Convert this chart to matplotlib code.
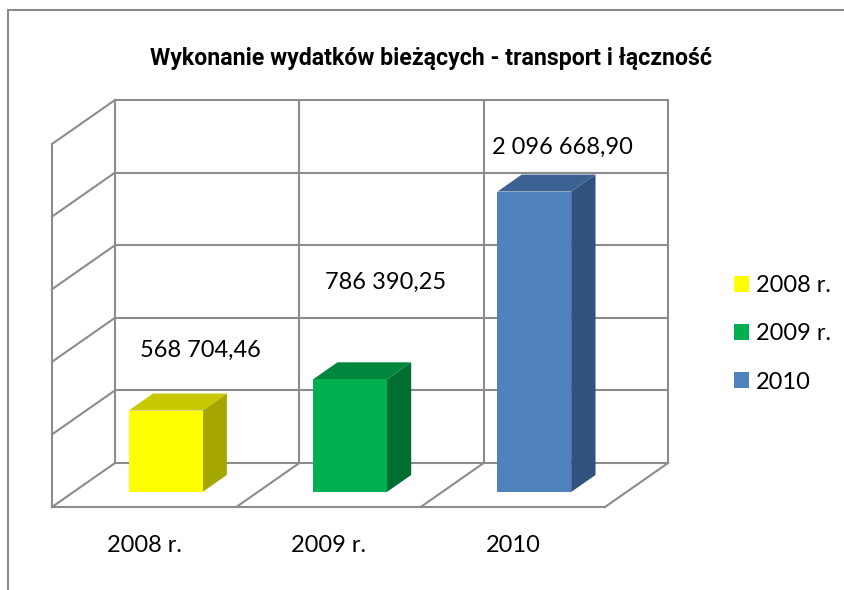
import matplotlib.pyplot as plt
from matplotlib.patches import Polygon, Patch
from matplotlib.lines import Line2D

title = "Wykonanie wydatków bieżących - transport i łączność"
categories = ["2008 r.", "2009 r.", "2010"]
values = [568704.46, 786390.25, 2096668.90]
front_colors = ["#FFFF00", "#00B050", "#4F81BD"]
top_colors = ["#C8C800", "#00873D", "#3B6293"]
side_colors = ["#A6A600", "#006E31", "#30527F"]

# where the value labels sit (category units, value units)
label_pos = [(0.803, 1.081e6), (1.807, 1.550e6), (2.767, 2.479e6)]

grid_color = "#8C8C8C"
font = ["Lato", "DejaVu Sans"]

fig = plt.figure(figsize=(8.44, 5.90), dpi=100)
ax = fig.add_axes([52 / 844, 1 - 507 / 590, 553 / 844, 363 / 590])
ax.set_xlim(0, 3)
ax.set_ylim(0, 2.5e6)
ax.axis('off')

# depth vector (floor front -> back wall)
DX = 63 / 184.33
DV = 44 / 363 * 2.5e6
BAR_SCALE = 143.3 / 145.2  # bars come out a touch shorter than the wall grid


def proj(x, v, d):
    return x + d * DX, v + d * DV


def seg(p, q):
    ax.add_line(Line2D([p[0], q[0]], [p[1], q[1]], color=grid_color, lw=1.5,
                       clip_on=False, zorder=1, solid_capstyle='projecting'))


n = len(categories)
ticks = [i * 5e5 for i in range(6)]
# back wall and left wall
for t in ticks:
    seg(proj(0, t, 1), proj(n, t, 1))
    seg(proj(0, t, 0), proj(0, t, 1))
for i in range(n + 1):
    seg(proj(i, 0, 1), proj(i, ticks[-1], 1))
seg(proj(0, 0, 0), proj(0, ticks[-1], 0))
# floor
seg(proj(0, 0, 0), proj(n, 0, 0))
for i in range(1, n + 1):
    seg(proj(i, 0, 0), proj(i, 0, 1))

# bars
d0, d1 = 15 / 44, 32 / 44
w = 0.4
for i, val in enumerate(values):
    v = val * BAR_SCALE
    x0, x1 = i + 0.5 - w / 2, i + 0.5 + w / 2
    side = [proj(x1, 0, d0), proj(x1, 0, d1), proj(x1, v, d1), proj(x1, v, d0)]
    top = [proj(x0, v, d0), proj(x1, v, d0), proj(x1, v, d1), proj(x0, v, d1)]
    ax.add_patch(Polygon(side, closed=True, fc=side_colors[i], ec='none', zorder=3, clip_on=False))
    ax.add_patch(Polygon(top, closed=True, fc=top_colors[i], ec='none', zorder=3, clip_on=False))
    ax.bar(i + 0.5 + d0 * DX, v, width=w, bottom=d0 * DV, color=front_colors[i], zorder=4, clip_on=False)

for (lx, ly), v in zip(label_pos, values):
    txt = f"{v:,.2f}".replace(",", " ").replace(".", ",")
    ax.text(lx, ly, txt, ha='center', va='center', fontsize=17, family=font, zorder=5)

for i, c in enumerate(categories):
    ax.text(i + 0.5, -0.262e6, c, ha='center', va='center', fontsize=17, family=font)

fig.text(431 / 844, 1 - 58 / 590, title, ha='center', va='center', fontsize=16.7,
         fontweight='bold', family=["Roboto", "DejaVu Sans"])

handles = [Patch(facecolor=c, edgecolor='none') for c in front_colors]
fig.legend(handles, categories, loc='center left', bbox_to_anchor=(722 / 844, 1 - 334 / 590),
           frameon=False, prop={'family': font, 'size': 17}, handlelength=0.65,
           handleheight=0.65, handletextpad=0.3, labelspacing=1.15, borderpad=0)

# outer chart frame (top and left edges visible)
fig.add_artist(Line2D([8 / 844, 8 / 844], [0, 1 - 10 / 590], color=grid_color, lw=1.5))
fig.add_artist(Line2D([8 / 844, 1], [1 - 10 / 590, 1 - 10 / 590], color=grid_color, lw=1.5))

fig.savefig("out.png", dpi=100)
